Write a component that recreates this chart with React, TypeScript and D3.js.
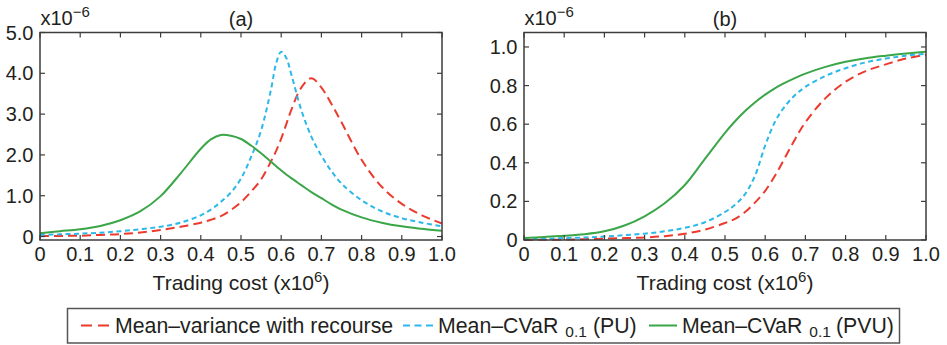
import React from "react";
import * as d3 from "d3";

// ---------- data ----------
const xA = [0, 0.05, 0.1, 0.15, 0.2, 0.25, 0.3, 0.35, 0.4, 0.425, 0.45, 0.475, 0.5, 0.525, 0.55, 0.575, 0.5875, 0.6, 0.6125, 0.625, 0.65, 0.675, 0.7, 0.725, 0.75, 0.8, 0.85, 0.9, 0.95, 1.0];
const redA = [0.01, 0.015, 0.02, 0.04, 0.06, 0.1, 0.16, 0.24, 0.34, 0.41, 0.5, 0.65, 0.84, 1.1, 1.4, 1.85, 2.1, 2.4, 2.75, 3.1, 3.65, 3.88, 3.65, 3.25, 2.8, 1.88, 1.22, 0.8, 0.52, 0.32];
const blueA = [0.04, 0.055, 0.07, 0.095, 0.13, 0.18, 0.24, 0.34, 0.52, 0.66, 0.85, 1.08, 1.42, 1.95, 2.6, 3.62, 4.25, 4.53, 4.38, 3.98, 3.1, 2.45, 1.98, 1.6, 1.3, 0.89, 0.62, 0.45, 0.34, 0.25];
const greenA = [0.08, 0.13, 0.18, 0.26, 0.4, 0.62, 0.99, 1.55, 2.15, 2.38, 2.49, 2.47, 2.39, 2.23, 2.04, 1.83, 1.72, 1.62, 1.52, 1.43, 1.26, 1.09, 0.94, 0.79, 0.66, 0.47, 0.34, 0.25, 0.19, 0.14];

const xB = [0, 0.05, 0.1, 0.15, 0.2, 0.25, 0.3, 0.35, 0.4, 0.45, 0.5, 0.525, 0.55, 0.575, 0.6, 0.625, 0.65, 0.675, 0.7, 0.75, 0.8, 0.85, 0.9, 0.95, 1.0];
const redB = [0.0, 0.001, 0.002, 0.004, 0.007, 0.01, 0.013, 0.02, 0.032, 0.054, 0.088, 0.11, 0.145, 0.195, 0.255, 0.335, 0.43, 0.525, 0.61, 0.735, 0.82, 0.875, 0.91, 0.94, 0.96];
const blueB = [0.003, 0.006, 0.01, 0.013, 0.018, 0.025, 0.033, 0.045, 0.063, 0.092, 0.145, 0.182, 0.238, 0.335, 0.49, 0.615, 0.695, 0.752, 0.793, 0.85, 0.89, 0.92, 0.94, 0.955, 0.965];
const greenB = [0.01, 0.016, 0.022, 0.03, 0.045, 0.075, 0.123, 0.19, 0.285, 0.42, 0.555, 0.615, 0.668, 0.714, 0.753, 0.787, 0.815, 0.84, 0.862, 0.897, 0.923, 0.942, 0.955, 0.966, 0.975];

const xTicks = [0, 0.1, 0.2, 0.3, 0.4, 0.5, 0.6, 0.7, 0.8, 0.9, 1.0];
const xTickLabels = ["0", "0.1", "0.2", "0.3", "0.4", "0.5", "0.6", "0.7", "0.8", "0.9", "1.0"];
const yTicksA = [0, 1, 2, 3, 4, 5];
const yTickLabelsA = ["0", "1.0", "2.0", "3.0", "4.0", "5.0"];
const yTicksB = [0, 0.2, 0.4, 0.6, 0.8, 1.0];
const yTickLabelsB = ["0", "0.2", "0.4", "0.6", "0.8", "1.0"];

const seriesNames = ["Mean–variance with recourse", "Mean–CVaR", "Mean–CVaR"];

const RED = "#ec3b2e";
const BLUE = "#2cb8e8";
const GREEN = "#3aa647";
const AXIS = "#3d3d3d";
const TEXT = "#231f20";
const FONT = "'Liberation Sans', Arial, sans-serif";

type PanelProps = {
  left: number;
  right: number;
  top: number;
  bottom: number;
  yDomain: [number, number];
  yTicks: number[];
  yLabels: string[];
  xs: number[];
  red: number[];
  blue: number[];
  green: number[];
  title: string;
};

function Panel(p: PanelProps) {
  const x = d3.scaleLinear().domain([0, 1]).range([p.left, p.right]);
  const y = d3.scaleLinear().domain(p.yDomain).range([p.bottom, p.top]);
  const line = (vals: number[]) =>
    d3
      .line<number>()
      .x((_, i) => x(p.xs[i]))
      .y((v) => y(v))
      .curve(d3.curveCatmullRom.alpha(0.5))(vals) || "";
  const tl = 5;
  const cx = (p.left + p.right) / 2;
  return (
    <g>
      <path d={line(p.red)} fill="none" stroke={RED} strokeWidth={2} strokeDasharray="9,5" />
      <path d={line(p.blue)} fill="none" stroke={BLUE} strokeWidth={2} strokeDasharray="5,3.5" />
      <path d={line(p.green)} fill="none" stroke={GREEN} strokeWidth={2} />
      <rect x={p.left} y={p.top} width={p.right - p.left} height={p.bottom - p.top} fill="none" stroke={AXIS} strokeWidth={1.5} />
      {xTicks.map((t, i) => (
        <g key={"x" + i}>
          <line x1={x(t)} x2={x(t)} y1={p.bottom} y2={p.bottom - tl} stroke={AXIS} strokeWidth={1.2} />
          <line x1={x(t)} x2={x(t)} y1={p.top} y2={p.top + tl} stroke={AXIS} strokeWidth={1.2} />
          <text x={x(t)} y={261} textAnchor="middle" fontSize={20} fill={TEXT} fontFamily={FONT}>
            {xTickLabels[i]}
          </text>
        </g>
      ))}
      {p.yTicks.map((t, i) => (
        <g key={"y" + i}>
          <line x1={p.left} x2={p.left + tl} y1={y(t)} y2={y(t)} stroke={AXIS} strokeWidth={1.2} />
          <line x1={p.right} x2={p.right - tl} y1={y(t)} y2={y(t)} stroke={AXIS} strokeWidth={1.2} />
          <text x={p.left - 6.5} y={y(t) + 7} textAnchor="end" fontSize={20} fill={TEXT} fontFamily={FONT}>
            {p.yLabels[i]}
          </text>
        </g>
      ))}
      <text x={p.left + 0.5} y={25} fontSize={20} fill={TEXT} fontFamily={FONT}>
        x10
        <tspan fontSize={15} dy={-8}>−6</tspan>
      </text>
      <text x={cx} y={26} textAnchor="middle" fontSize={20} fill={TEXT} fontFamily={FONT}>
        {p.title}
      </text>
      <text x={cx} y={290} textAnchor="middle" fontSize={21} fill={TEXT} fontFamily={FONT}>
        Trading cost (x10
        <tspan fontSize={15} dy={-8}>6</tspan>
        <tspan dy={8}>)</tspan>
      </text>
    </g>
  );
}

function Legend() {
  const ly = 325.5;
  return (
    <g fontFamily={FONT} fill={TEXT}>
      <rect x={67.5} y={308.5} width={832} height={34.5} fill="white" stroke="#555" strokeWidth={1.5} />
      <line x1={81} x2={110} y1={ly} y2={ly} stroke={RED} strokeWidth={2} strokeDasharray="11,6" />
      <text x={115} y={332.5} fontSize={21.3}>{seriesNames[0]}</text>
      <line x1={403} x2={433} y1={ly} y2={ly} stroke={BLUE} strokeWidth={2} strokeDasharray="7,4.5" />
      <text x={438} y={332.5} fontSize={21.3}>
        {seriesNames[1]}
        <tspan fontSize={15.5} dx={7} dy={4}>0.1</tspan>
        <tspan dx={6} dy={-4}>(PU)</tspan>
      </text>
      <line x1={649} x2={677} y1={ly} y2={ly} stroke={GREEN} strokeWidth={2} />
      <text x={682} y={332.5} fontSize={21.3}>
        {seriesNames[2]}
        <tspan fontSize={15.5} dx={7} dy={4}>0.1</tspan>
        <tspan dx={5} dy={-4}>(PVU)</tspan>
      </text>
    </g>
  );
}

export default function App() {
  return (
    <svg
      width={947}
      height={345}
      style={{ position: "absolute", left: 0, top: 0, background: "white" }}
    >
      <Panel left={40} right={442} top={32.5} bottom={240} yDomain={[-0.085, 5.0]} yTicks={yTicksA} yLabels={yTickLabelsA} xs={xA} red={redA} blue={blueA} green={greenA} title="(a)" />
      <Panel left={524} right={926} top={32.5} bottom={240} yDomain={[0, 1.075]} yTicks={yTicksB} yLabels={yTickLabelsB} xs={xB} red={redB} blue={blueB} green={greenB} title="(b)" />
      <Legend />
    </svg>
  );
}
